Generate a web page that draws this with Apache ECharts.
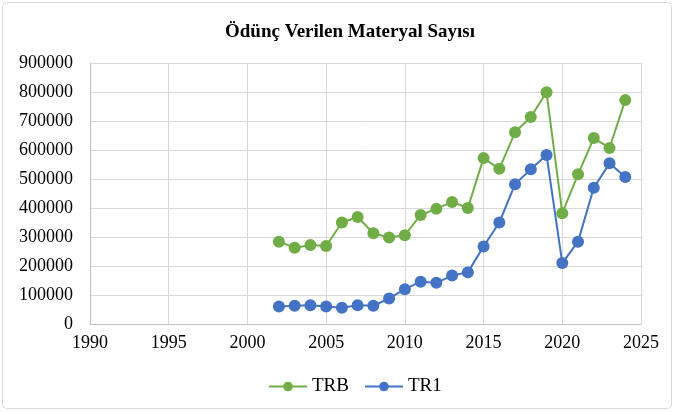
<!DOCTYPE html>
<html>
<head>
<meta charset="utf-8">
<script src="https://cdn.jsdelivr.net/npm/echarts@6/dist/echarts.min.js"></script>
<style>
  html, body { margin: 0; padding: 0; background: #fff; }
  #chart { width: 675px; height: 412px; }
</style>
</head>
<body>
<div id="chart"></div>
<script>
const years = [2002, 2003, 2004, 2005, 2006, 2007, 2008, 2009, 2010, 2011, 2012, 2013,
  2014, 2015, 2016, 2017, 2018, 2019, 2020, 2021, 2022, 2023, 2024]
const trb = [284000, 263000, 272000, 269000, 350000, 369000, 313000, 298000, 306000, 376000, 397000, 421000,
  400000, 572000, 535000, 661000, 714000, 799000, 382000, 516000, 641000, 607000, 772000]
const tr1 = [60000, 63000, 65000, 60000, 56000, 65000, 63000, 88000, 120000, 146000, 142000, 167000,
  178000, 267000, 350000, 482000, 534000, 583000, 210000, 284000, 470000, 554000, 507000]

const chart = echarts.init(document.getElementById('chart'))

const font = '"Liberation Serif", "Times New Roman", serif'

function pairs(xs, ys) {
  return xs.map((x, i) => [x, ys[i]])
}

chart.setOption({
  backgroundColor: '#ffffff',
  animation: false,
  graphic: [
    {
      type: 'rect',
      shape: { x: 2.5, y: 2.5, width: 669, height: 406, r: 4 },
      style: { fill: 'none', stroke: '#d9d9d9', lineWidth: 1 },
      silent: true
    }
  ],
  title: {
    text: 'Ödünç Verilen Materyal Sayısı',
    left: 220,
    top: 18,
    textStyle: {
      fontFamily: font,
      fontSize: 19,
      fontWeight: 'bold',
      color: '#000'
    }
  },
  legend: {
    bottom: 11,
    left: 263,
    itemWidth: 38,
    itemHeight: 12,
    itemGap: 15,
    textStyle: {
      fontFamily: font,
      fontSize: 19,
      color: '#000'
    },
    data: ['TRB', 'TR1']
  },
  grid: {
    left: 90,
    right: 34,
    top: 63,
    bottom: 88,
    containLabel: false
  },
  xAxis: {
    type: 'value',
    min: 1990,
    max: 2025,
    interval: 5,
    axisLine: {
      show: true,
      onZero: false,
      lineStyle: { color: '#bfbfbf' }
    },
    axisTick: { show: false },
    splitLine: {
      show: true,
      lineStyle: { color: '#d9d9d9' }
    },
    axisLabel: {
      fontFamily: font,
      fontSize: 18,
      color: '#000',
      margin: 10,
      formatter: v => String(v)
    }
  },
  yAxis: {
    type: 'value',
    min: 0,
    max: 900000,
    interval: 100000,
    axisLine: {
      show: true,
      lineStyle: { color: '#bfbfbf' }
    },
    axisTick: { show: false },
    splitLine: {
      show: true,
      lineStyle: { color: '#d9d9d9' }
    },
    axisLabel: {
      fontFamily: font,
      fontSize: 18,
      color: '#000',
      margin: 17,
      formatter: v => String(v)
    }
  },
  series: [
    {
      name: 'TRB',
      type: 'line',
      symbol: 'circle',
      symbolSize: 12,
      lineStyle: { width: 2, color: '#70ad47' },
      itemStyle: { color: '#70ad47' },
      data: pairs(years, trb)
    },
    {
      name: 'TR1',
      type: 'line',
      symbol: 'circle',
      symbolSize: 12,
      lineStyle: { width: 2, color: '#4472c4' },
      itemStyle: { color: '#4472c4' },
      data: pairs(years, tr1)
    }
  ]
})
</script>
</body>
</html>
